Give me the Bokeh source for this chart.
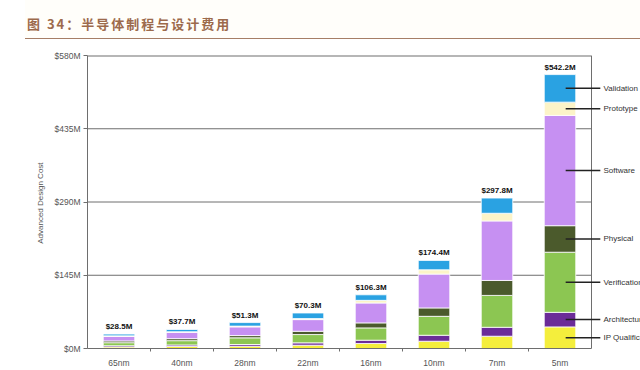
from bokeh.plotting import figure
from bokeh.layouts import column
from bokeh.models import (ColumnDataSource, FixedTicker, PrintfTickFormatter, Label, Arrow,
                          Range1d, Div)
from bokeh.core.properties import value
from bokeh.embed import file_html
from bokeh.resources import INLINE

title_text = "图 34：半导体制程与设计费用"
nodes = ["65nm", "40nm", "28nm", "22nm", "16nm", "10nm", "7nm", "5nm"]
totals = [28.5, 37.7, 51.3, 70.3, 106.3, 174.4, 297.8, 542.2]
ip_qual = [3.0, 4.0, 4.5, 6.5, 9.9, 14.4, 24.3, 42.8]
architecture = [2.5, 3.0, 3.4, 4.7, 6.5, 11.8, 17.7, 28.8]
verification = [6.0, 8.5, 13.2, 16.4, 24.4, 37.5, 63.1, 119.0]
physical = [3.5, 4.0, 4.5, 6.5, 9.9, 16.6, 29.6, 52.5]
software = [9.0, 12.5, 17.2, 23.1, 39.4, 67.0, 117.8, 218.3]
prototype = [1.0, 1.2, 1.5, 2.0, 5.2, 8.5, 15.2, 26.3]
validation = [3.5, 4.5, 7.0, 11.1, 11.0, 18.6, 30.1, 54.5]
series_names = ["IP Qualification", "Architecture", "Verification", "Physical",
                "Software", "Prototype", "Validation"]
series_colors = ["#f4ee3c", "#6b2c98", "#8cc652", "#4b5a2c", "#c690f2", "#fcf4c8", "#2aa2e2"]
y_ticks = [0, 145, 290, 435, 580]
y_label = "Advanced  Design Cost"

FONT = "Liberation Sans"
GRID = "#6e6e6e"

xs = [i + 0.5 for i in range(len(nodes))]
series = [ip_qual, architecture, verification, physical, software, prototype, validation]
keys = ["s%d" % i for i in range(len(series))]
data = {"x": xs, "total": totals, "lbl": ["$%.1fM" % t for t in totals]}
for k, s in zip(keys, series):
    data[k] = s
src = ColumnDataSource(data)

W = 640
TITLE_H = 39
H = 370 - TITLE_H
PX_PER_CAT = 63.0
RIGHT_EXTRA = 49 / PX_PER_CAT  # room for the callout labels right of the chart box

title_div = Div(text=title_text, width=W - 25, height=TITLE_H, margin=(0, 0, 0, 25),
                styles={"font-family": "'Noto Sans CJK SC'", "font-size": "13px",
                        "font-weight": "bold", "color": "#9c6a4c", "letter-spacing": "2px",
                        "line-height": "16px", "padding-top": "16px", "padding-left": "2px",
                        "box-sizing": "border-box", "border-bottom": "1.5px solid #a67e66",
                        "background": "#fffefa"})

p = figure(width=W, height=H, output_backend="svg", toolbar_location=None,
           x_range=Range1d(0, len(nodes) + RIGHT_EXTRA),
           y_range=Range1d(y_ticks[0], y_ticks[-1]),
           min_border_left=87, min_border_right=0, min_border_top=55 - TITLE_H,
           min_border_bottom=21)
p.background_fill_color = "white"
p.border_fill_color = "white"
p.outline_line_color = None
p.xgrid.visible = False
p.ygrid.visible = False

# chart box: horizontal grid lines at the y ticks and the right edge
n_t = len(y_ticks)
p.segment(x0=[0] * n_t, x1=[len(nodes)] * n_t, y0=y_ticks, y1=y_ticks,
          line_color=GRID, line_width=[1] * (n_t - 1) + [2])
p.segment(x0=[len(nodes)], x1=[len(nodes)], y0=[y_ticks[0]], y1=[y_ticks[-1]],
          line_color=GRID, line_width=1)

p.vbar_stack(keys, x="x", width=0.5, source=src, color=series_colors,
             line_color="white", line_width=0.8)

p.text(x="x", y="total", text="lbl", source=src, y_offset=-3,
       text_align="center", text_baseline="bottom", text_font=value(FONT),
       text_font_size="8px", text_font_style="bold", text_color="#111")

ya = p.yaxis[0]
ya.ticker = FixedTicker(ticks=y_ticks)
ya.formatter = PrintfTickFormatter(format="$%dM")
ya.axis_line_color = GRID
ya.major_tick_line_color = GRID
ya.major_tick_out = 4
ya.major_tick_in = 0
ya.minor_tick_line_color = None
ya.major_label_text_font = FONT
ya.major_label_text_font_size = "8.5px"
ya.major_label_text_color = "#555"
ya.major_label_standoff = 3
ya.axis_label = y_label
ya.axis_label_text_font = FONT
ya.axis_label_text_font_size = "8px"
ya.axis_label_text_font_style = "normal"
ya.axis_label_text_color = "#555"
ya.axis_label_standoff = 7

xa = p.xaxis[0]
xa.bounds = (0, len(nodes))
xa.ticker = FixedTicker(ticks=xs, minor_ticks=list(range(1, len(nodes))))
xa.major_label_overrides = {x: n for x, n in zip(xs, nodes)}
xa.axis_line_color = GRID
xa.major_tick_out = 0
xa.major_tick_in = 0
xa.minor_tick_out = 3
xa.minor_tick_in = 0
xa.minor_tick_line_color = GRID
xa.major_label_text_font = FONT
xa.major_label_text_font_size = "8.5px"
xa.major_label_text_color = "#555"
xa.major_label_standoff = 6

# callouts for the last bar
last = len(nodes) - 1
cum = 0.0
for name, s in zip(series_names, series):
    mid = cum + s[last] / 2.0
    cum += s[last]
    p.add_layout(Arrow(end=None, x_start=xs[last] + 0.09, y_start=mid,
                       x_end=xs[last] + 0.64, y_end=mid,
                       line_color="#222", line_width=1.5))
    p.add_layout(Label(x=xs[last] + 0.69, y=mid, text=name, text_font=FONT,
                       text_font_size="8px", text_color="#333", text_baseline="middle"))

layout = column(title_div, p, spacing=0)
open("out.html", "w").write(file_html(layout, INLINE))
